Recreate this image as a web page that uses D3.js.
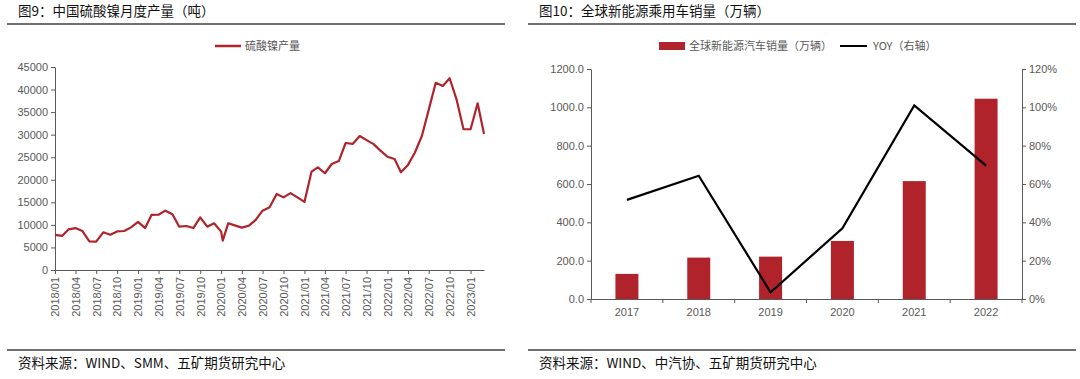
<!DOCTYPE html>
<html>
<head>
<meta charset="utf-8">
<script src="https://cdn.jsdelivr.net/npm/d3@7"></script>
<style>
  body { margin: 0; background: #fff; }
  svg { display: block; }
  .tick text { font-family: "Liberation Sans", Arial, sans-serif; font-size: 11px; fill: #595959; }
  .axis path, .axis line { stroke: #595959; }
  .cn { font-family: "Noto Sans CJK SC", sans-serif; }
</style>
</head>
<body>
<svg id="chart"></svg>
<script>
// ---- left chart: 硫酸镍月度产量 ----
var nickelDates = [
  "2018-01-01","2018-02-01","2018-03-01","2018-04-01","2018-05-01","2018-06-01",
  "2018-07-01","2018-08-01","2018-09-01","2018-10-01","2018-11-01","2018-12-01",
  "2019-01-01","2019-02-01","2019-03-01","2019-04-01","2019-05-01","2019-06-01",
  "2019-07-01","2019-08-01","2019-09-01","2019-10-01","2019-11-01","2019-12-01",
  "2020-01-01","2020-01-08","2020-02-01","2020-03-01","2020-04-01","2020-05-01","2020-06-01",
  "2020-07-01","2020-08-01","2020-09-01","2020-10-01","2020-11-01","2020-12-01",
  "2021-01-01","2021-02-01","2021-03-01","2021-04-01","2021-05-01","2021-06-01",
  "2021-07-01","2021-08-01","2021-09-01","2021-10-01","2021-11-01","2021-12-01",
  "2022-01-01","2022-02-01","2022-03-01","2022-04-01","2022-05-01","2022-06-01",
  "2022-07-01","2022-08-01","2022-09-01","2022-10-01","2022-11-01","2022-12-01",
  "2023-01-01","2023-02-01","2023-03-01"
]
var nickelOutput = [
  7800, 7550, 9000, 9300, 8650, 6350,
  6300, 8350, 7800, 8550, 8650, 9450,
  10650, 9300, 12200, 12250, 13150, 12350,
  9600, 9750, 9300, 11650, 9600, 10350,
  8500, 6500, 10350, 9900, 9400, 9800, 11100,
  13150, 13900, 16850, 16100, 17050, 16100,
  15100, 21800, 22750, 21450, 23500, 24150,
  28150, 27950, 29700, 28800, 27900, 26450,
  25100, 24600, 21650, 23300, 26000, 29700,
  35500, 41500, 40800, 42500, 37700, 31200,
  31200, 36950, 30150
]
var nickelTicks = d3.range(0, 45001, 5000)

// ---- right chart: 全球新能源乘用车销量 ----
var years = ["2017","2018","2019","2020","2021","2022"]
var evSales = [131, 216, 221, 303, 615, 1045]
var evYoy = [0.517, 0.643, 0.035, 0.369, 1.01, 0.696]
var salesTicks = d3.range(0, 1201, 200)
var yoyTicks = d3.range(0, 1.21, 0.2)

var screen = {width:1080, height:379}
var red = "#b0232a"

var svg = d3.select("#chart")
  .attr("width", screen.width)
  .attr("height", screen.height)

svg.append("rect").attr("width", screen.width).attr("height", screen.height).attr("fill", "#fff")

// headers and footers
var panels = [
  {x0:7, x1:505, title:"图9：中国硫酸镍月度产量（吨）", source:"资料来源：WIND、SMM、五矿期货研究中心"},
  {x0:528, x1:1076, title:"图10：全球新能源乘用车销量（万辆）", source:"资料来源：WIND、中汽协、五矿期货研究中心"}
]
panels.forEach(function(p){
  svg.append("text").attr("class","cn")
     .attr("x", p.x0 + 11).attr("y", 16)
     .attr("font-size", 13.5).attr("fill", "#111")
     .text(p.title)
  svg.append("line").attr("x1", p.x0).attr("x2", p.x1)
     .attr("y1", 24).attr("y2", 24)
     .attr("stroke", "#404040").attr("stroke-width", 1.5)
  svg.append("line").attr("x1", p.x0).attr("x2", p.x1)
     .attr("y1", 350).attr("y2", 350)
     .attr("stroke", "#404040").attr("stroke-width", 1.5)
  svg.append("text").attr("class","cn")
     .attr("x", p.x0 + 11).attr("y", 368)
     .attr("font-size", 13.5).attr("fill", "#111")
     .text(p.source)
})

// ===== left chart =====
var parse = d3.timeParse("%Y-%m-%d")
var leftData = nickelDates.map(function(d,i){ return {date:parse(d), value:nickelOutput[i]} })

var xTime = d3.scaleTime()
  .domain([parse("2018-01-01"), parse("2023-03-01")])
  .range([55, 484])
var yLeft = d3.scaleLinear().domain([0, 45000]).range([270, 67])

svg.append("g").attr("class","axis")
  .attr("transform","translate(55,0)")
  .call(d3.axisLeft(yLeft).tickValues(nickelTicks).tickSize(4).tickSizeOuter(0).tickFormat(d3.format("d")))

var xAx = svg.append("g").attr("class","axis")
  .attr("transform","translate(0,270)")
  .call(d3.axisBottom(xTime).ticks(d3.timeMonth.every(3)).tickSize(4).tickSizeOuter(0)
        .tickFormat(d3.timeFormat("%Y/%m")))
xAx.selectAll(".tick text")
  .attr("transform","rotate(-90)")
  .attr("text-anchor","end")
  .attr("x", -7).attr("y", 0).attr("dy","0.35em")

var lineGen = d3.line()
  .x(function(d){ return xTime(d.date) })
  .y(function(d){ return yLeft(d.value) })
svg.append("path").datum(leftData)
  .attr("d", lineGen)
  .attr("fill","none").attr("stroke", red).attr("stroke-width", 2.2)
  .attr("stroke-linejoin","round")

// legend
svg.append("line").attr("x1",215).attr("x2",241).attr("y1",46).attr("y2",46)
  .attr("stroke", red).attr("stroke-width", 2.5)
svg.append("text").attr("class","cn").attr("x",245).attr("y",50)
  .attr("font-size",11).attr("fill","#595959").text("硫酸镍产量")

// ===== right chart =====
var xBand = d3.scaleBand().domain(years).range([591, 1022]).paddingInner(0).paddingOuter(0)
var ySales = d3.scaleLinear().domain([0, 1200]).range([299, 69])
var yYoy = d3.scaleLinear().domain([0, 1.2]).range([299, 69])

svg.append("g").attr("class","axis")
  .attr("transform","translate(591,0)")
  .call(d3.axisLeft(ySales).tickValues(salesTicks).tickSize(4).tickSizeOuter(0).tickFormat(d3.format(".1f")))
svg.append("g").attr("class","axis")
  .attr("transform","translate(1022,0)")
  .call(d3.axisRight(yYoy).tickValues(yoyTicks).tickSize(4).tickSizeOuter(0).tickFormat(d3.format(".0%")))

var xAx2 = svg.append("g").attr("class","axis")
  .attr("transform","translate(0,299)")
  .call(d3.axisBottom(xBand).tickSize(0).tickSizeOuter(0))
xAx2.selectAll(".tick text").attr("dy","1.25em")
// ticks between categories
xAx2.selectAll(".sep")
  .data(d3.range(years.length + 1))
  .enter().append("line")
  .attr("class","sep")
  .attr("x1", function(i){ return 591 + i * xBand.step() })
  .attr("x2", function(i){ return 591 + i * xBand.step() })
  .attr("y1", 0).attr("y2", 4)
  .attr("stroke", "#595959")

var barW = xBand.bandwidth() * 0.32
svg.append("g").selectAll("rect")
  .data(years)
  .enter().append("rect")
  .attr("x", function(d){ return xBand(d) + xBand.bandwidth()/2 - barW/2 })
  .attr("width", barW)
  .attr("y", function(d,i){ return ySales(evSales[i]) })
  .attr("height", function(d,i){ return 299 - ySales(evSales[i]) })
  .attr("fill", red)

var yoyLine = d3.line()
  .x(function(d,i){ return xBand(years[i]) + xBand.bandwidth()/2 })
  .y(function(d){ return yYoy(d) })
svg.append("path").datum(evYoy)
  .attr("d", yoyLine)
  .attr("fill","none").attr("stroke","#000").attr("stroke-width",2.2)

// legend
svg.append("rect").attr("x",659).attr("y",42).attr("width",26).attr("height",8).attr("fill",red)
svg.append("text").attr("class","cn").attr("x",689).attr("y",50)
  .attr("font-size",11).attr("fill","#595959").text("全球新能源汽车销量（万辆）")
svg.append("line").attr("x1",840).attr("x2",867).attr("y1",46).attr("y2",46)
  .attr("stroke","#000").attr("stroke-width",2)
svg.append("text").attr("class","cn").attr("x",873).attr("y",50)
  .attr("font-size",11).attr("fill","#595959").text("YOY（右轴）")
</script>
</body>
</html>
